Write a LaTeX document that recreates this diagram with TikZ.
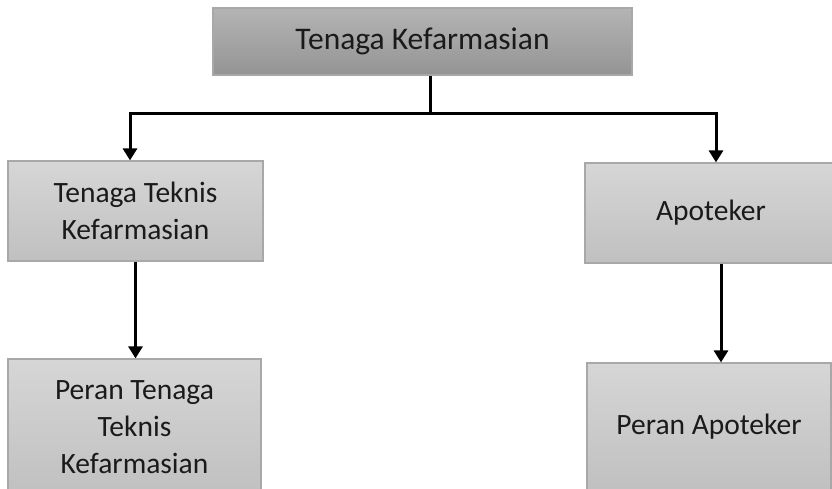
\documentclass[tikz,border=0pt]{standalone}
\usepackage{fontspec}
\setmainfont{Carlito}
\usetikzlibrary{arrows.meta}
\definecolor{boxtop}{HTML}{D6D6D6}
\definecolor{boxbot}{HTML}{C0C0C0}
\definecolor{headtop}{HTML}{B4B4B4}
\definecolor{headbot}{HTML}{949494}
\definecolor{boxline}{HTML}{A8A8A8}
\definecolor{ink}{HTML}{1A1A1A}
\tikzset{
	rolebox/.style={draw=boxline, line width=1.2pt, top color=boxtop, bottom color=boxbot,
		text=ink, align=center, inner sep=0pt, font=\fontsize{29.5}{37}\selectfont},
	headbox/.style={rolebox, top color=headtop, bottom color=headbot, font=\fontsize{31.5}{38}\selectfont},
	link/.style={line width=3pt, -{Triangle[width=14pt,length=12pt]}}
}
\begin{document}
\begin{tikzpicture}[x=1pt, y=-1pt]
	\useasboundingbox (0,0) rectangle (832,488);
	\clip (0,0) rectangle (832,488);
	%boxes
	\node[headbox, minimum width=419pt, minimum height=67pt] (kef) at (422.5, 41.5){Tenaga Kefarmasian};
	\node[rolebox, minimum width=255pt, minimum height=100pt] (ttk) at (135.5, 211){Tenaga Teknis\\Kefarmasian};
	\node[rolebox, minimum width=252pt, minimum height=100pt] (apt) at (711, 213){Apoteker};
	\node[rolebox, minimum width=253pt, minimum height=136pt] (perttk) at (134.5, 427){Peran Tenaga\\Teknis\\Kefarmasian};
	\node[rolebox, minimum width=244pt, minimum height=128pt] (perapt) at (709, 427){Peran Apoteker};
	
	%connectors
	\coordinate (split) at (430, 113);
	\draw[line width=3pt] (kef.south -| split) -- (split);
	\draw[link] (split) -| ([xshift=-5.5pt]ttk.north);
	\draw[link] (split) -| ([xshift=5pt]apt.north);
	\draw[link] (ttk.south) -- (ttk.south |- perttk.north);
	\draw[link] ([xshift=10pt]apt.south) -- ([xshift=10pt]apt.south |- perapt.north);
\end{tikzpicture}
\end{document}
